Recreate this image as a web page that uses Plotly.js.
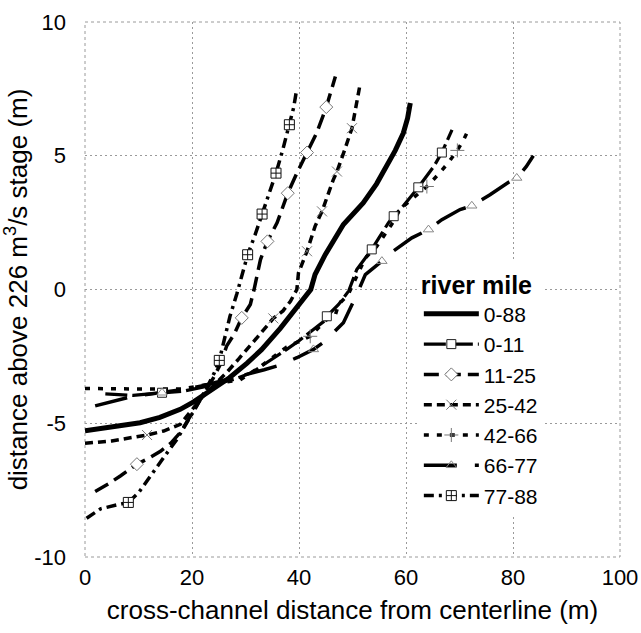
<!DOCTYPE html>
<html>
<head>
<meta charset="utf-8">
<script src="https://cdn.plot.ly/plotly-3.0.1.min.js"></script>
<style>
  html, body { margin: 0; padding: 0; background: #fff; }
  #chart { width: 641px; height: 633px; }
</style>
</head>
<body>
<div id="chart"></div>
<script>
// Cross-channel bed profiles, grouped by river-mile reach.
// Distance from the channel centerline (m) vs. elevation relative to the 226 m3/s stage (m).

const reachNames = ["0-88", "0-11", "11-25", "25-42", "42-66", "66-77", "77-88"];

const x_0_88 = [0, 5, 10.3, 14, 17.8, 20.3, 24, 27, 30.3, 33, 36.5, 39.5, 42.2, 43, 44.9, 48.3, 52, 54.5, 56.4, 58, 59.5, 60.3, 60.8];
const y_0_88 = [-5.28, -5.12, -4.98, -4.78, -4.48, -4.2, -3.72, -3.3, -2.75, -2.25, -1.45, -0.68, 0, 0.56, 1.3, 2.43, 3.24, 3.95, 4.6, 5.2, 5.85, 6.4, 6.97];

const x_0_11 = [3.8, 6.5, 9, 11, 14.4, 18.4, 22, 25, 28, 31.2, 33.5, 35.9, 37.7, 39.9, 42.1, 44.6, 45.2, 47.4, 49.3, 50.8, 52.4, 53.6, 55, 56.7, 57.7, 59.2, 62.3, 63.6, 65.2, 66.7, 68.6];
const y_0_11 = [-3.9, -3.93, -3.96, -3.92, -3.86, -3.8, -3.65, -3.5, -3.35, -3.1, -2.8, -2.5, -2.24, -1.93, -1.6, -1.2, -1.0, -0.56, -0.05, 0.75, 1.18, 1.5, 1.95, 2.49, 2.74, 3.05, 3.82, 4.17, 4.6, 5.12, 5.97];
const mk_0_11 = [4, 16, 21, 24, 26, 29];

const x_11_25 = [1.9, 4.5, 6.6, 9.7, 12, 14.1, 16, 17.8, 19.5, 21, 22.5, 24, 25.3, 26.5, 27.8, 29.3, 30.9, 31.6, 32.8, 34.1, 35.9, 37.9, 39.6, 41.5, 43.3, 45.1, 46.8];
const y_11_25 = [-7.55, -7.25, -6.97, -6.53, -6.3, -6.05, -5.75, -5.35, -4.8, -4.3, -3.8, -3.3, -2.8, -2.1, -1.7, -1.06, -0.56, 0.0, 1.12, 1.8, 2.49, 3.6, 4.35, 5.12, 5.85, 6.82, 7.96];
const mk_11_25 = [3, 15, 19, 21, 23, 25];

const x_25_42 = [0, 5, 11.6, 14.7, 17.8, 20.3, 22, 24, 26.5, 28.7, 30.6, 32.4, 35.2, 37, 38.4, 39.6, 39.9, 41.5, 43, 44.3, 46.4, 47.1, 48.5, 49.9, 51.4];
const y_25_42 = [-5.75, -5.66, -5.44, -5.29, -5.04, -4.42, -4.0, -3.6, -3.1, -2.6, -2.18, -1.74, -1.08, -0.8, -0.44, 0, 0.62, 1.43, 2.36, 2.92, 4.1, 4.41, 5.2, 6.03, 7.65];
const mk_25_42 = [2, 12, 17, 19, 21, 23];

const x_42_66 = [0, 5, 10, 15, 18, 21.5, 25, 29, 33, 37.7, 42.1, 45, 46.8, 47.4, 49.2, 50.5, 52.4, 54.5, 57.7, 58.9, 61.4, 63.9, 65.8, 67.7, 69.6, 70.7, 71.8];
const y_42_66 = [-3.7, -3.72, -3.72, -3.72, -3.72, -3.6, -3.5, -3.38, -2.85, -2.15, -1.75, -1.15, -0.95, -0.56, -0.19, 0.37, 1.18, 1.6, 2.55, 3.01, 3.42, 3.85, 4.25, 4.69, 5.2, 5.57, 6.03];
const mk_42_66 = [10, 21, 24];

const x_66_77 = [1.9, 5, 8.8, 11, 14.4, 18, 22, 25, 28, 31.2, 33.5, 36.2, 39.6, 42.7, 44.9, 46.5, 48.3, 50.8, 52.4, 55.5, 57.6, 61.1, 64.2, 66.7, 70.1, 72.3, 75.7, 79.1, 80.7, 82.5, 83.8];
const y_66_77 = [-4.35, -4.18, -4.0, -3.94, -3.86, -3.75, -3.6, -3.45, -3.3, -3.11, -3.0, -2.84, -2.55, -2.24, -1.93, -1.6, -1.24, -0.19, 0.56, 1.06, 1.43, 1.93, 2.24, 2.61, 2.99, 3.13, 3.54, 4.0, 4.17, 4.6, 5.0];
const mk_66_77 = [4, 13, 19, 22, 25, 28];

const x_77_88 = [0.3, 2.9, 6, 8.1, 10, 12.8, 15, 17.2, 19.2, 20.6, 22.8, 24.2, 25.1, 26.2, 27.1, 28.4, 29.3, 30.4, 31.8, 33.1, 34.4, 35.7, 37, 38.2, 39, 39.5];
const y_77_88 = [-8.55, -8.2, -8.05, -7.96, -7.6, -6.8, -6.2, -5.6, -4.95, -4.45, -3.66, -3.1, -2.65, -1.8, -1.0, -0.15, 0.55, 1.3, 2.05, 2.82, 3.55, 4.35, 5.25, 6.16, 6.8, 7.4];
const mk_77_88 = [3, 12, 17, 19, 21, 23];

const xTickVals = [0, 20, 40, 60, 80, 100];
const xTickText = ["0", "20", "40", "60", "80", "100"];
const yTickVals = [-10, -5, 0, 5, 10];
const yTickText = ["-10", "-5", "0", "5", "10"];

const xTitle = "cross-channel distance from centerline (m)";
const yTitle = "distance above 226 m<sup>3</sup>/s stage (m)";

// Line and marker style for each reach
const styles = [
  { width: 5,   dash: "solid",               symbol: null },
  { width: 3.2, dash: "22px,5px",            symbol: "square",        mColor: "#fff", mLine: "#222", mSize: 9 },
  { width: 3.5, dash: "15px,7px",            symbol: "diamond",       mColor: "#fff", mLine: "#777", mSize: 10 },
  { width: 3.5, dash: "8px,5px",             symbol: "x-thin",        mColor: "#777", mLine: "#777", mSize: 10 },
  { width: 3.5, dash: "5px,8px",             symbol: "cross-thin",    mColor: "#777", mLine: "#777", mSize: 10 },
  { width: 3.5, dash: "33px,18px",           symbol: "triangle-up-open", mColor: "#888", mLine: "#888", mSize: 9 },
  { width: 3.5, dash: "10px,5px,3px,5px",    symbol: "square-cross",  mColor: "#fff", mLine: "#111", mSize: 10 }
];

const series = [
  { x: x_0_88,  y: y_0_88,  marks: [] },
  { x: x_0_11,  y: y_0_11,  marks: mk_0_11 },
  { x: x_11_25, y: y_11_25, marks: mk_11_25 },
  { x: x_25_42, y: y_25_42, marks: mk_25_42 },
  { x: x_42_66, y: y_42_66, marks: mk_42_66 },
  { x: x_66_77, y: y_66_77, marks: mk_66_77 },
  { x: x_77_88, y: y_77_88, marks: mk_77_88 }
];

const traces = [];
series.forEach((s, i) => {
  const st = styles[i];
  traces.push({
    type: "scatter", mode: "lines", x: s.x, y: s.y,
    line: { color: "#000", width: st.width, dash: st.dash },
    showlegend: false, hoverinfo: "skip"
  });
});
series.forEach((s, i) => {
  const st = styles[i];
  if (!s.marks.length) return;
  traces.push({
    type: "scatter", mode: "markers",
    x: s.marks.map(k => s.x[k]), y: s.marks.map(k => s.y[k]),
    marker: { symbol: st.symbol, size: st.mSize, color: st.mColor,
              line: { color: st.mLine, width: 1 } },
    showlegend: false, hoverinfo: "skip"
  });
});
// Legend entries: line sample with its marker
series.forEach((s, i) => {
  const st = styles[i];
  const t = {
    type: "scatter", name: reachNames[i], x: [null], y: [null],
    mode: st.symbol ? "lines+markers" : "lines",
    line: { color: "#000", width: st.width, dash: st.dash },
    showlegend: true
  };
  if (st.symbol) {
    t.marker = { symbol: st.symbol, size: st.mSize, color: st.mColor,
                 line: { color: st.mLine, width: 1 } };
  }
  traces.push(t);
});

const gridStyle = { gridcolor: "#9a9a9a", gridwidth: 1, griddash: "2px,3px" };

const layout = {
  width: 641, height: 633,
  margin: { l: 85, r: 21, t: 22, b: 76 },
  paper_bgcolor: "#fff", plot_bgcolor: "#fff",
  font: { family: "Liberation Sans, Arial, sans-serif", color: "#000" },
  showlegend: true,
  xaxis: Object.assign({
    range: [0, 100], tickvals: xTickVals, ticktext: xTickText,
    showgrid: true, zeroline: false, showline: false, ticks: "",
    tickfont: { size: 22 }, ticklabelstandoff: 5,
    title: { text: xTitle, font: { size: 26 }, standoff: 11 }
  }, gridStyle),
  yaxis: Object.assign({
    range: [-10, 10], tickvals: yTickVals, ticktext: yTickText,
    showgrid: true, zeroline: false, showline: false, ticks: "",
    tickfont: { size: 22 }, ticklabelstandoff: 18,
    title: { text: yTitle, font: { size: 26 }, standoff: 2 }
  }, gridStyle),
  legend: {
    x: 0.624, y: 0.553, xanchor: "left", yanchor: "top",
    bgcolor: "#fff", borderwidth: 0,
    itemwidth: 55,
    font: { size: 21 },
    title: { text: "<b>river mile</b>", font: { size: 25 } },
    tracegroupgap: 0
  },
  shapes: [{
    type: "rect", xref: "paper", yref: "paper", x0: 0, x1: 1, y0: 0, y1: 1,
    line: { color: "#9a9a9a", width: 1, dash: "dot" }, layer: "below"
  }]
};

Plotly.newPlot("chart", traces, layout, { staticPlot: true, displayModeBar: false });
</script>
</body>
</html>
